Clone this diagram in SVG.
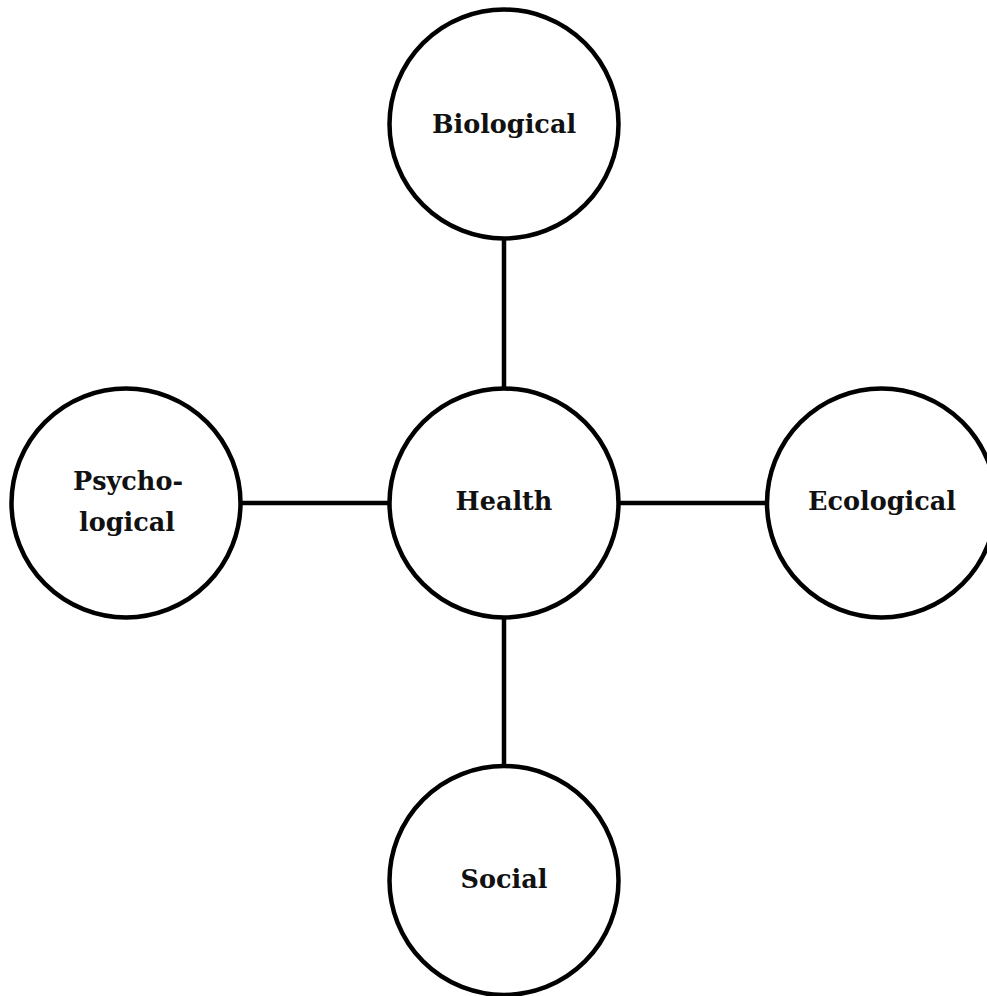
<svg xmlns="http://www.w3.org/2000/svg" width="987" height="996" viewBox="0 0 987 996">
<style>
.n{fill:#fff;stroke:#000;stroke-width:4.5}
.c{stroke:#000;stroke-width:4.5;fill:none}
.t{font-family:"DejaVu Serif","Liberation Serif",serif;font-weight:bold;font-size:25.5px;fill:#111;text-anchor:middle}
</style>
<rect width="987" height="996" fill="#fff"/>
<g id="connectors">
<line class="c" x1="504" y1="240" x2="504" y2="387"/>
<line class="c" x1="504" y1="619" x2="504" y2="765"/>
<line class="c" x1="242" y1="503" x2="389" y2="503"/>
<line class="c" x1="619" y1="503" x2="766" y2="503"/>
</g>
<g id="biological"><circle class="n" cx="504" cy="124" r="114.5"/><text class="t" x="504" y="133">Biological</text></g>
<g id="health"><circle class="n" cx="504" cy="503" r="114.5"/><text class="t" x="504" y="510">Health</text></g>
<g id="psychological"><circle class="n" cx="126" cy="503" r="114.5"/><text class="t" x="128" y="490">Psycho-</text><text class="t" x="127" y="531">logical</text></g>
<g id="ecological"><circle class="n" cx="881.5" cy="503" r="114.5"/><text class="t" x="882" y="510">Ecological</text></g>
<g id="social"><circle class="n" cx="504" cy="880.5" r="114.5"/><text class="t" x="504" y="888">Social</text></g>
</svg>
